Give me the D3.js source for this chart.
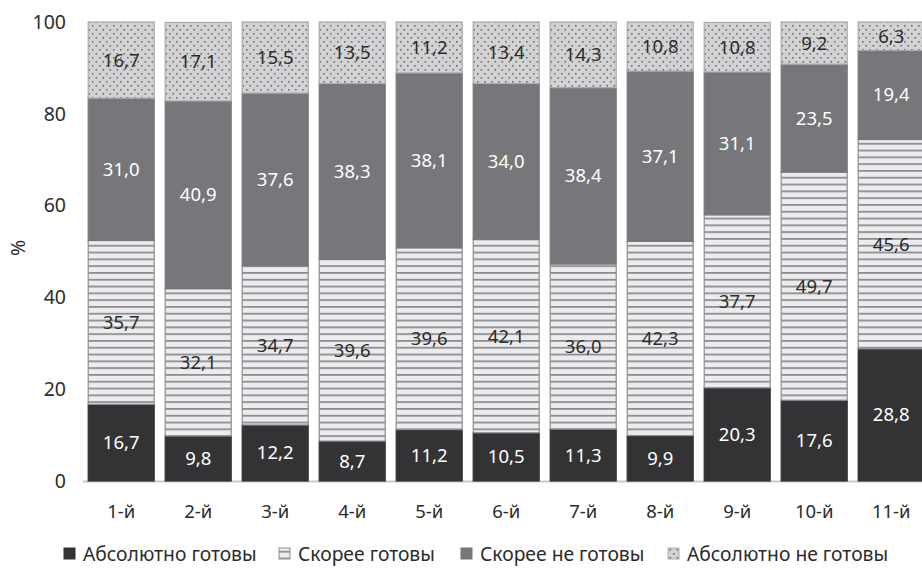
<!DOCTYPE html>
<html><head><meta charset="utf-8">
<script src="https://cdn.jsdelivr.net/npm/d3@7"></script>
<style>body{margin:0;background:#fff}svg{display:block;font-family:"Noto Sans",sans-serif}</style>
</head><body>
<svg id="c" width="922" height="570"></svg>
<script>
const categories = ["1-й","2-й","3-й","4-й","5-й","6-й","7-й","8-й","9-й","10-й","11-й"];
const seriesNames = ["Абсолютно готовы","Скорее готовы","Скорее не готовы","Абсолютно не готовы"];
const absReady    = [16.7, 9.8, 12.2, 8.7, 11.2, 10.5, 11.3, 9.9, 20.3, 17.6, 28.8];
const ratherReady = [35.7, 32.1, 34.7, 39.6, 39.6, 42.1, 36.0, 42.3, 37.7, 49.7, 45.6];
const ratherNot   = [31.0, 40.9, 37.6, 38.3, 38.1, 34.0, 38.4, 37.1, 31.1, 23.5, 19.4];
const absNot      = [16.7, 17.1, 15.5, 13.5, 11.2, 13.4, 14.3, 10.8, 10.8, 9.2, 6.3];
const yTicks = [0, 20, 40, 60, 80, 100];

const svg = d3.select("#c");
const defs = svg.append("defs");
const stripe = defs.append("pattern").attr("id","stripe").attr("patternUnits","userSpaceOnUse")
  .attr("width",10).attr("height",6.8);
stripe.append("rect").attr("width",10).attr("height",6.8).attr("fill","#ececef");
stripe.append("rect").attr("width",10).attr("height",1.8).attr("fill","#8e8e92");
const dots = defs.append("pattern").attr("id","dots").attr("patternUnits","userSpaceOnUse")
  .attr("width",7).attr("height",8);
dots.append("rect").attr("width",7).attr("height",8).attr("fill","#d3d3d6");
dots.append("rect").attr("x",1).attr("y",1).attr("width",1.6).attr("height",1.6).attr("fill","#6f6f72");
dots.append("rect").attr("x",4.5).attr("y",5).attr("width",1.6).attr("height",1.6).attr("fill","#6f6f72");

const fills = ["#333335","url(#stripe)","#77777b","url(#dots)"];
const strokes = ["#333335","#8e8e92","#77777b","#a9a9ab"];
const labelColors = ["#ffffff","#2b2b2b","#ffffff","#2b2b2b"];

const x = d3.scaleBand().domain(categories).range([82.7, 929.7]).paddingInner(0.13).paddingOuter(0.065);
const y = d3.scaleLinear().domain([0,100]).range([481, 22]);

const rows = categories.map((c,i)=>({cat:c, s0:absReady[i], s1:ratherReady[i], s2:ratherNot[i], s3:absNot[i]}));
const stack = d3.stack().keys(["s0","s1","s2","s3"])(rows);

svg.append("line").attr("x1",82.7).attr("x2",922).attr("y1",y(0)+0.5).attr("y2",y(0)+0.5)
  .attr("stroke","#c9c9c9").attr("stroke-width",2);

stack.forEach((layer,k)=>{
  svg.append("g").selectAll("rect").data(layer).join("rect")
    .attr("x",d=>x(d.data.cat)+0.5)
    .attr("width",x.bandwidth()-1)
    .attr("y",d=>y(Math.min(d[1],100)))
    .attr("height",d=>y(d[0])-y(Math.min(d[1],100)))
    .attr("fill",fills[k]).attr("stroke",strokes[k]).attr("stroke-width",1.2);
});
stack.forEach((layer,k)=>{
  svg.append("g").selectAll("text").data(layer).join("text")
    .attr("x",d=>x(d.data.cat)+x.bandwidth()/2)
    .attr("y",d=>(y(d[0])+y(Math.min(d[1],100)))/2)
    .attr("dy","0.35em").attr("text-anchor","middle")
    .attr("font-size",18.5).attr("fill",labelColors[k])
    .text(d=>(d[1]-d[0]).toFixed(1).replace(".",","));
});

svg.append("g").selectAll("text").data(yTicks).join("text")
  .attr("x",66).attr("y",d=>y(d)).attr("dy","0.35em").attr("text-anchor","end")
  .attr("font-size",19.5).attr("fill","#2b2b2b").text(d=>d);
svg.append("text").attr("transform","translate(25,248) rotate(-90)").attr("text-anchor","middle")
  .attr("font-size",19.5).attr("fill","#2b2b2b").text("%");

svg.append("g").selectAll("text").data(categories).join("text")
  .attr("x",d=>x(d)+x.bandwidth()/2).attr("y",512).attr("dy","0.35em").attr("text-anchor","middle")
  .attr("font-size",18.5).attr("fill","#2b2b2b").text(d=>d);

const legX = [64, 279, 461, 668];
const lg = svg.append("g");
seriesNames.forEach((n,i)=>{
  lg.append("rect").attr("x",legX[i]).attr("y",548).attr("width",11).attr("height",11)
    .attr("fill",fills[i]).attr("stroke",strokes[i]).attr("stroke-width",1);
  lg.append("text").attr("x",legX[i]+19).attr("y",554).attr("dy","0.35em")
    .attr("font-size",19.3).attr("fill","#2b2b2b").text(n);
});
</script>
</body></html>
